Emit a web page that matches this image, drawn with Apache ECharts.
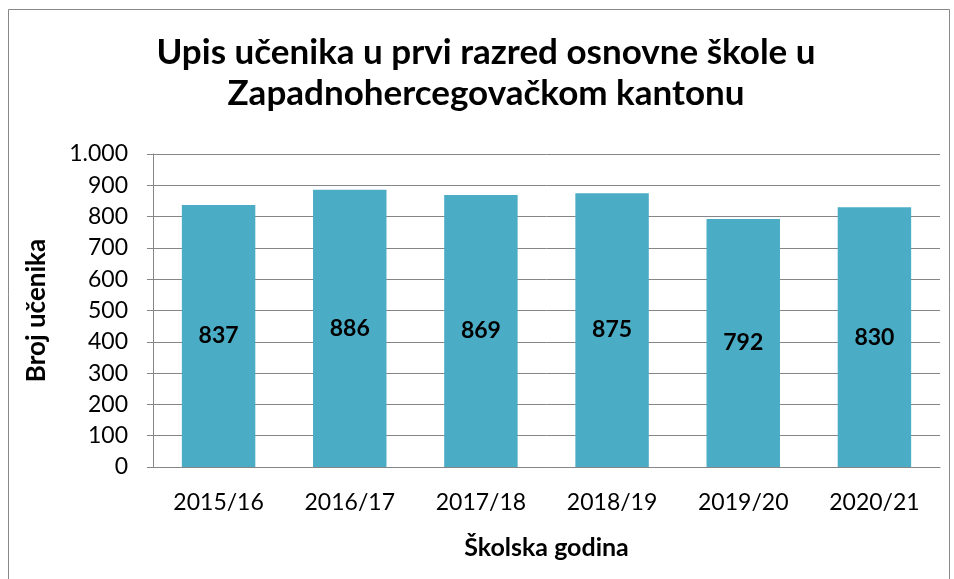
<!DOCTYPE html>
<html>
<head>
<meta charset="utf-8">
<script src="https://cdn.jsdelivr.net/npm/echarts@6/dist/echarts.min.js"></script>
<style>
  html, body { margin: 0; padding: 0; background: #fff; }
  #chart { width: 954px; height: 579px; }
</style>
</head>
<body>
<div id="chart"></div>
<script>
// podaci
const godine = ['2015/16', '2016/17', '2017/18', '2018/19', '2019/20', '2020/21']
const brojUcenika = [837, 886, 869, 875, 792, 830]

const FONT = 'Lato'

const chart = echarts.init(document.getElementById('chart'))

const option = {
  backgroundColor: '#fff',
  animation: false,
  textStyle: { fontFamily: FONT, color: '#000' },
  title: {
    text: 'Upis učenika u prvi razred osnovne škole u\nZapadnohercegovačkom kantonu',
    // naslov je malo desno od sredine
    left: 481,
    top: 27,
    textAlign: 'center',
    textStyle: {
      fontFamily: FONT,
      fontSize: 35,
      fontWeight: 'bold',
      color: '#000',
      lineHeight: 41
    }
  },
  graphic: [
    {
      type: 'rect',
      shape: { x: 8.5, y: 9.5, width: 941, height: 600 },
      style: { fill: null, stroke: '#888', lineWidth: 1 },
      silent: true
    }
  ],
  grid: {
    left: 153,
    right: 14,
    top: 154,
    bottom: 112
  },
  xAxis: {
    type: 'category',
    data: godine,
    axisLine: { lineStyle: { color: '#868686', width: 1 } },
    axisTick: { show: false },
    axisLabel: { fontFamily: FONT, fontSize: 23, color: '#000', margin: 24 },
    name: 'Školska godina',
    nameLocation: 'middle',
    nameGap: 68,
    nameTextStyle: { fontFamily: FONT, fontSize: 25, fontWeight: 'bold', color: '#000' }
  },
  yAxis: {
    type: 'value',
    min: 0,
    max: 1000,
    interval: 100,
    axisLine: { show: true, lineStyle: { color: '#868686', width: 1 } },
    axisTick: { show: true, length: 6, lineStyle: { color: '#868686' } },
    splitLine: { lineStyle: { color: '#868686', width: 1 } },
    axisLabel: {
      fontFamily: FONT,
      fontSize: 23,
      color: '#000',
      margin: 25,
      formatter: v => v >= 1000 ? (v / 1000) + '.' + String(v % 1000).padStart(3, '0') : String(v)
    },
    name: 'Broj učenika',
    nameLocation: 'middle',
    nameGap: 103,
    nameRotate: 90,
    nameTextStyle: { fontFamily: FONT, fontSize: 26, fontWeight: 'bold', color: '#000' }
  },
  series: [
    {
      type: 'bar',
      data: brojUcenika,
      barCategoryGap: '44%',
      itemStyle: { color: '#4BACC6' },
      label: {
        show: true,
        position: 'inside',
        fontFamily: FONT,
        fontSize: 23,
        fontWeight: 'bold',
        color: '#000'
      }
    }
  ]
}

chart.setOption(option)
</script>
</body>
</html>
